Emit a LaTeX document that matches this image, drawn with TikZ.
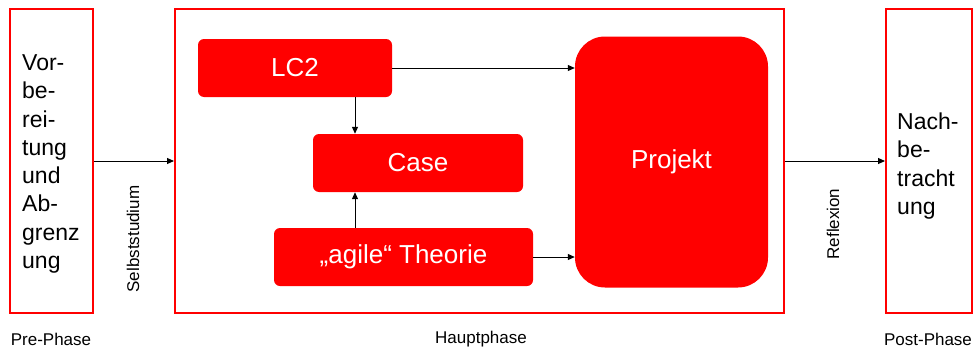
\documentclass[tikz,border=0pt]{standalone}
\usepackage{fontspec}
\setmainfont{Liberation Sans}
\usetikzlibrary{arrows.meta}
\begin{document}
\begin{tikzpicture}[x=1pt,y=-1pt,
  phasebox/.style={draw=red, line width=2pt, inner sep=0pt},
  redbox/.style={fill=red, text=white, inner sep=0pt, rounded corners=6pt, font=\fontsize{26}{31}\selectfont},
  sidetext/.style={align=left, anchor=west, inner sep=0pt, font=\fontsize{23}{28.3}\selectfont},
  phaselabel/.style={inner sep=0pt, font=\fontsize{17}{20}\selectfont},
  conn/.style={-{Triangle[length=7pt,width=6pt]}, line width=1pt, black}
]
\useasboundingbox (0,0) rectangle (979,348);

\node[phasebox, minimum width=83pt, minimum height=304pt] (pre) at (51.5,161) {};
\node[phasebox, minimum width=609pt, minimum height=304pt] (main) at (479.5,161) {};
\node[phasebox, minimum width=86pt, minimum height=304pt] (post) at (929,161) {};

\node[redbox, minimum width=194pt, minimum height=58pt] (LC2) at (295,68) {LC2};
\node[redbox, minimum width=210pt, minimum height=58pt] (Case) at (418,163) {Case};
\node[redbox, minimum width=259pt, minimum height=58pt] (agile) at (403.5,257) {„agile“ Theorie};
\node[redbox, rounded corners=30pt, minimum width=193pt, minimum height=251pt] (Projekt) at (671.5,162) {Projekt};

\node[sidetext] (pretext) at (22,164) {Vor-\\be-\\rei-\\tung\\und\\Ab-\\grenz\\ung};
\node[sidetext] (posttext) at (897,166) {Nach-\\be-\\tracht\\ung};

\draw[conn] (pre.east) -- (main.west);
\draw[conn] (main.east) -- (post.west);
\draw[conn] (LC2.east) -- (LC2.east -| Projekt.west);
\draw[conn] (agile.east) -- (agile.east -| Projekt.west);
\coordinate (vx) at (355,0);
\draw[conn] (LC2.south -| vx) -- (Case.north -| vx);
\draw[conn] (agile.north -| vx) -- (Case.south -| vx);

\node[phaselabel, rotate=90] (selbst) at (133,239) {Selbststudium};
\node[phaselabel, rotate=90] (refl) at (833,224) {Reflexion};
\node[phaselabel] (prelab) at (51,339) {Pre-Phase};
\node[phaselabel] (hauptlab) at (481,339) {Hauptphase};
\node[phaselabel] (postlab) at (928,339) {Post-Phase};
\end{tikzpicture}
\end{document}
